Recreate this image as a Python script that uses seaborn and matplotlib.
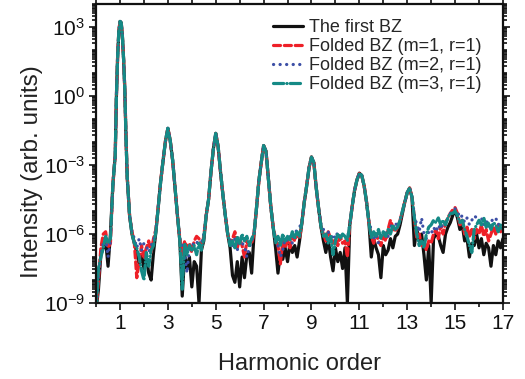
import numpy as np
import pandas as pd
import matplotlib
matplotlib.use("Agg")
import matplotlib.pyplot as plt
import matplotlib.ticker as mticker
import seaborn as sns

# Harmonic order grid (finer sampling around the fundamental peak)
order = np.round(np.concatenate([
    np.arange(0.0, 0.65, 0.1),
    np.arange(0.7, 1.33, 0.05),
    np.arange(1.4, 17.05, 0.1),
]), 2)

# log10 of the harmonic intensity for each calculation
first_bz = [
    -9.3, -8.4, -6.9, -6.6, -6.3, -7.4, -6.0,
    -3.9, -3.2, -2.6, 0.0, 1.7, 2.8, 3.25, 3.2, 2.6, 1.6, 0.3, -1.8, -3.5,
    -5.2, -6.0, -6.4, -6.8, -7.3, -6.9,
    -7.5, -7.0, -7.7, -8.0, -6.8, -5.9, -4.8, -3.7, -2.8, -1.95,
    -1.4, -1.95, -2.8, -4.0, -5.2, -6.3, -8.7, -6.9, -7.5, -7.0,
    -8.3, -7.2, -7.4, -9.0, -6.7, -6.3, -5.2, -4.5, -3.3, -2.3,
    -1.62, -2.2, -3.3, -4.3, -5.2, -6.0, -6.6, -7.8, -8.1, -7.2,
    -8.3, -7.0, -7.9, -6.9, -6.8, -7.7, -6.0, -4.9, -3.7, -2.9,
    -2.15, -2.4, -3.6, -4.8, -5.7, -6.6, -7.7, -6.8, -7.1, -6.6,
    -7.2, -6.4, -6.8, -6.5, -7.0, -6.3, -5.5, -4.6, -3.9, -3.1,
    -2.65, -2.9, -4.0, -4.9, -5.7, -6.3, -6.8, -6.2, -7.0, -7.6,
    -6.6, -7.2, -6.8, -7.5, -6.6, -9.0, -5.6, -4.8, -4.1, -3.65,
    -3.35, -3.45, -3.9, -4.6, -5.5, -7.0, -6.2, -6.6, -6.9, -7.9,
    -6.5, -6.9, -6.7, -6.2, -6.6, -6.1, -6.0, -5.6, -5.1, -4.6,
    -4.2, -4.0, -4.4, -6.5, -5.8, -6.3, -6.0, -6.9, -8.0, -6.5,
    -9.0, -6.2, -6.0, -6.1, -6.5, -6.8, -6.0, -5.7, -5.5, -5.2,
    -4.95, -5.3, -5.8, -5.6, -6.3, -6.2, -7.0, -6.4, -6.5, -6.0,
    -6.6, -6.2, -6.9, -6.4, -6.6, -7.4, -6.5, -6.9, -6.3, -6.6,
    -6.2,
]

folded_m1 = [
    -9.3, -8.0, -6.6, -6.0, -5.9, -6.6, -6.4,
    -3.9, -3.2, -2.6, 0.0, 1.7, 2.8, 3.25, 3.2, 2.6, 1.6, 0.3, -1.8, -3.5,
    -5.2, -5.9, -6.4, -7.9, -7.2, -6.5,
    -7.0, -6.6, -6.3, -6.8, -6.2, -5.8, -4.8, -3.7, -2.8, -1.95,
    -1.4, -1.95, -2.8, -4.0, -5.2, -6.2, -6.9, -6.3, -6.6, -6.4,
    -6.8, -6.3, -6.1, -6.2, -6.6, -6.1, -5.2, -4.5, -3.3, -2.3,
    -1.62, -2.2, -3.3, -4.3, -5.2, -6.0, -6.4, -6.2, -5.9, -6.6,
    -6.2, -6.5, -7.0, -6.3, -6.5, -6.4, -6.0, -4.9, -3.7, -2.9,
    -2.15, -2.4, -3.6, -4.8, -5.7, -6.2, -6.5, -7.3, -6.3, -6.6,
    -6.3, -6.6, -6.1, -6.3, -6.0, -6.2, -5.5, -4.6, -3.9, -3.1,
    -2.65, -2.9, -4.0, -4.9, -5.7, -6.0, -6.3, -5.9, -6.2, -6.4,
    -6.2, -6.5, -6.1, -6.4, -6.3, -7.0, -5.6, -4.8, -4.1, -3.65,
    -3.35, -3.45, -3.9, -4.6, -5.5, -6.1, -6.4, -6.0, -6.3, -6.5,
    -6.1, -6.3, -5.8, -5.4, -5.7, -5.9, -5.7, -5.4, -5.0, -4.6,
    -4.2, -4.0, -4.4, -5.3, -6.2, -6.0, -6.5, -6.3, -6.7, -6.3,
    -6.4, -6.0, -5.8, -6.2, -5.6, -6.0, -5.5, -5.3, -5.1, -4.95,
    -4.85, -5.1, -5.6, -5.4, -6.0, -5.7, -6.1, -5.8, -6.2, -5.8,
    -6.0, -5.6, -6.1, -5.8, -6.3, -6.0, -5.7, -6.0, -5.6, -5.9,
    -5.7,
]

folded_m2 = [
    -9.3, -7.8, -6.9, -6.4, -6.2, -7.0, -6.3,
    -3.9, -3.2, -2.6, 0.0, 1.7, 2.8, 3.25, 3.2, 2.6, 1.6, 0.3, -1.8, -3.5,
    -5.2, -5.9, -6.2, -6.6, -6.2, -6.7,
    -6.4, -6.5, -6.8, -6.5, -6.3, -5.8, -4.8, -3.7, -2.8, -1.95,
    -1.4, -1.95, -2.8, -4.0, -5.2, -6.2, -6.5, -6.8, -7.7, -6.6,
    -6.5, -6.4, -6.3, -6.6, -6.4, -6.0, -5.2, -4.5, -3.3, -2.3,
    -1.62, -2.2, -3.3, -4.3, -5.2, -6.0, -6.3, -6.5, -6.2, -6.7,
    -6.3, -6.4, -6.5, -7.0, -6.6, -6.3, -6.0, -4.9, -3.7, -2.9,
    -2.15, -2.4, -3.6, -4.8, -5.7, -6.3, -6.5, -7.0, -6.7, -6.2,
    -6.3, -6.1, -6.4, -6.0, -5.8, -5.7, -5.5, -4.6, -3.9, -3.1,
    -2.65, -2.9, -4.0, -4.9, -5.6, -5.8, -6.1, -5.9, -6.3, -6.0,
    -6.2, -5.9, -6.2, -6.0, -6.1, -6.2, -5.6, -4.8, -4.1, -3.65,
    -3.35, -3.45, -3.9, -4.6, -5.5, -5.8, -6.2, -6.0, -6.4, -6.1,
    -6.0, -5.9, -6.1, -5.6, -5.8, -5.5, -5.7, -5.4, -5.0, -4.6,
    -4.2, -4.0, -4.4, -5.2, -5.6, -5.9, -5.3, -6.0, -6.2, -5.9,
    -6.0, -5.7, -5.9, -5.6, -5.8, -5.5, -5.6, -5.3, -5.1, -5.0,
    -4.9, -5.0, -5.3, -5.2, -5.5, -5.3, -5.6, -5.4, -5.2, -5.3,
    -5.5, -5.3, -5.6, -5.4, -5.7, -5.5, -5.3, -5.3, -5.6, -5.5,
    -5.6,
]

folded_m3 = [
    -9.3, -7.5, -7.0, -6.6, -6.1, -6.4, -6.2,
    -3.9, -3.2, -2.6, 0.0, 1.7, 2.8, 3.25, 3.2, 2.6, 1.6, 0.3, -1.8, -3.5,
    -5.2, -6.0, -6.4, -6.6, -7.0, -7.6,
    -8.0, -6.8, -7.4, -6.7, -6.5, -5.9, -4.8, -3.7, -2.8, -1.95,
    -1.4, -1.95, -2.8, -4.0, -5.2, -6.3, -8.4, -6.4, -6.9, -6.5,
    -6.7, -6.5, -6.9, -6.4, -6.7, -6.2, -5.2, -4.5, -3.3, -2.3,
    -1.62, -2.2, -3.3, -4.3, -5.2, -6.0, -6.5, -6.3, -6.6, -6.1,
    -6.4, -6.0, -6.3, -6.1, -6.5, -6.2, -6.0, -4.9, -3.7, -2.9,
    -2.15, -2.4, -3.6, -4.8, -5.7, -6.4, -6.1, -6.5, -6.0, -6.3,
    -6.1, -6.3, -5.9, -6.2, -5.9, -6.1, -5.5, -4.6, -3.9, -3.1,
    -2.65, -2.9, -4.0, -4.9, -5.7, -6.1, -6.0, -6.4, -6.1, -6.9,
    -6.3, -6.0, -6.2, -6.0, -6.1, -6.3, -5.6, -4.8, -4.1, -3.65,
    -3.35, -3.45, -3.9, -4.6, -5.5, -6.2, -5.9, -6.1, -5.8, -6.2,
    -5.9, -6.1, -5.8, -6.0, -5.6, -5.8, -5.7, -5.4, -5.0, -4.6,
    -4.2, -4.0, -4.4, -5.3, -6.0, -6.5, -6.3, -6.6, -6.0, -5.7,
    -5.6, -5.4, -5.5, -5.3, -5.6, -5.4, -5.6, -5.3, -5.1, -5.1,
    -5.0, -5.2, -5.5, -5.4, -5.8, -6.1, -6.5, -6.8, -5.8, -5.6,
    -5.4, -5.6, -5.3, -5.7, -5.5, -5.8, -5.5, -5.6, -5.9, -5.6,
    -5.8,
]

series_names = [
    "The first BZ",
    "Folded BZ (m=1, r=1)",
    "Folded BZ (m=2, r=1)",
    "Folded BZ (m=3, r=1)",
]
series_logs = [first_bz, folded_m1, folded_m2, folded_m3]
colors = ["#111111", "#ee2028", "#3c4fa6", "#158a86"]
dash_styles = ["", (2.2, 1.2), (0.05, 2.0), (3.2, 1.0, 0.05, 1.0)]

df = pd.concat(
    [pd.DataFrame({"order": order, "intensity": 10.0 ** np.asarray(v), "series": n})
     for n, v in zip(series_names, series_logs)],
    ignore_index=True,
)

sns.set_style("ticks")
plt.rcParams["font.family"] = ["Liberation Sans", "DejaVu Sans"]
plt.rcParams["mathtext.fontset"] = "custom"
plt.rcParams["mathtext.rm"] = "Liberation Sans"
plt.rcParams["mathtext.default"] = "regular"

fig = plt.figure(figsize=(5.25, 3.79), dpi=100)
ax = fig.add_axes([0.183, 0.2005, 0.775, 0.7885])

sns.lineplot(
    data=df, x="order", y="intensity", hue="series", style="series",
    hue_order=series_names, style_order=series_names,
    palette=dict(zip(series_names, colors)),
    dashes=dict(zip(series_names, dash_styles)),
    estimator=None, linewidth=2.3, ax=ax,
)

for line in ax.lines:
    line.set_dash_capstyle("round")
    line.set_solid_joinstyle("round")

ax.set_yscale("log")
ax.set_xlim(0, 17)
ax.set_ylim(1e-9, 1e4)

ax.xaxis.set_major_locator(mticker.FixedLocator([1, 3, 5, 7, 9, 11, 13, 15, 17]))
ax.xaxis.set_minor_locator(mticker.FixedLocator(list(range(0, 18, 2))))
ax.yaxis.set_major_locator(mticker.FixedLocator([1e-9, 1e-6, 1e-3, 1e0, 1e3]))
ax.yaxis.set_major_formatter(mticker.LogFormatterSciNotation())
ax.yaxis.set_minor_locator(mticker.LogLocator(base=10, subs=np.arange(1, 10), numticks=100))
ax.yaxis.set_minor_formatter(mticker.NullFormatter())

ax.tick_params(which="both", direction="out", top=True, right=True, width=1.2, colors="#111111")
ax.tick_params(which="major", length=5, labelsize=15, pad=3)
ax.tick_params(which="minor", length=3)
for s in ax.spines.values():
    s.set_linewidth(1.6)
    s.set_color("#111111")

ax.set_xlabel("Harmonic order", fontsize=17, labelpad=14, color="#222222")
ax.set_ylabel("Intensity (arb. units)", fontsize=17.5, color="#222222")
ax.yaxis.set_label_coords(-0.13, 0.44)

handles, labels = ax.get_legend_handles_labels()
ax.legend(handles, labels, loc="upper right", bbox_to_anchor=(0.973, 0.985), frameon=False,
          fontsize=13, handlelength=1.65, handletextpad=0.3, labelspacing=0.1,
          borderaxespad=0.2)

fig.savefig("out.png", dpi=100)
